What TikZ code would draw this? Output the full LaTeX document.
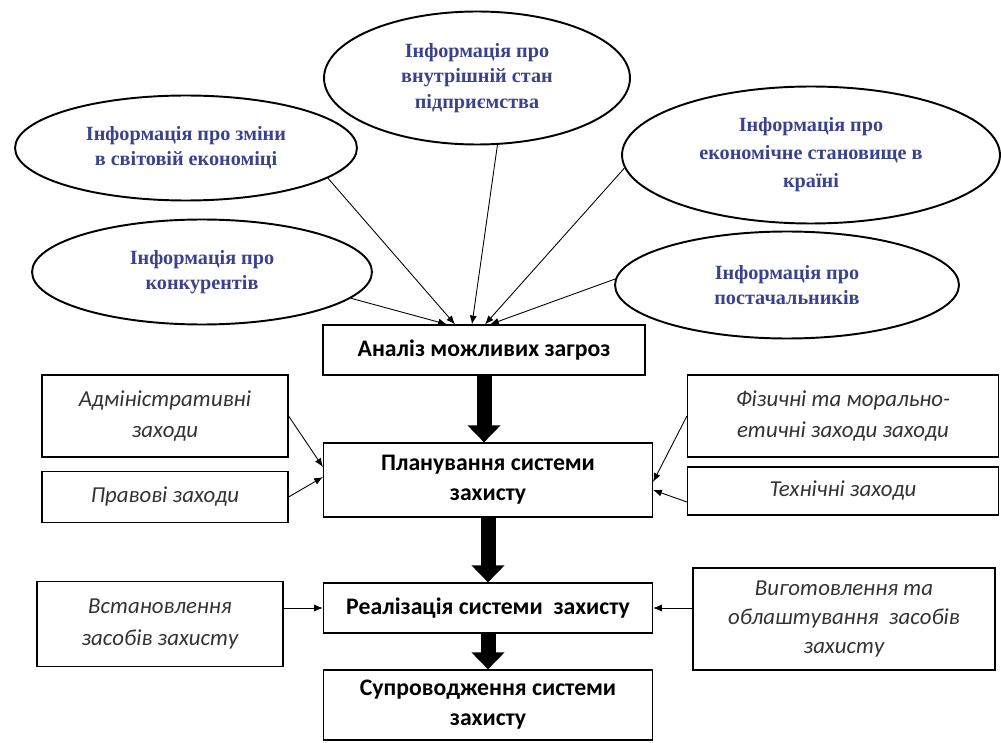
\documentclass[tikz,border=0pt]{standalone}
\usepackage{fontspec}
\setmainfont{Carlito}
\newfontfamily\ellfont{Liberation Serif}
\usetikzlibrary{calc,shapes.geometric,arrows.meta}
\definecolor{infoblue}{RGB}{58,66,140}

\begin{document}
\begin{tikzpicture}[
  x=0.02cm, y=-0.02cm,
  info/.style={ellipse, draw, line width=1.1pt, align=center, inner sep=0pt,
    font=\ellfont\bfseries\fontsize{11.5}{14.5}\selectfont, text=infoblue},
  stage/.style={draw, line width=0.7pt, align=center, inner sep=2pt,
    font=\bfseries\fontsize{13.5}{17}\selectfont},
  means/.style={draw, line width=0.7pt, align=center, inner sep=2pt,
    font=\itshape\fontsize{13}{18}\selectfont, text=black!80},
  feed/.style={-{Latex[length=5pt,width=4pt]}, line width=0.5pt},
  flow/.style={-{Triangle[length=0.34cm,width=0.64cm]}, line width=0.3cm}
]
\useasboundingbox (0,0) rectangle (1001,743);

\node[info, minimum width=6.84cm, minimum height=2.1cm] (world) at (186,148) {Інформація про зміни\\в світовій економіці};
\node[info, minimum width=6.12cm, minimum height=2.66cm] (inner) at (477,78) {Інформація про\\внутрішній стан\\підприємства};
\node[info, minimum width=7.56cm, minimum height=2.74cm, font=\ellfont\bfseries\fontsize{11.5}{16}\selectfont] (country) at (811,155) {Інформація про\\економічне становище в\\країні};
\node[info, minimum width=6.8cm, minimum height=2.1cm] (rivals) at (202,272) {Інформація про\\конкурентів};
\node[info, minimum width=6.88cm, minimum height=2.14cm] (supply) at (787,285) {Інформація про\\постачальників};

\node[stage, minimum width=6.44cm, minimum height=1cm] (b1) at (484,350) {Аналіз можливих загроз};
\node[stage, minimum width=6.58cm, minimum height=1.48cm] (b2) at (488,480) {Планування системи\\захисту};
\node[stage, minimum width=6.58cm, minimum height=1cm] (b3) at (488,608) {Реалізація системи \ захисту};
\node[stage, minimum width=6.58cm, minimum height=1.4cm] (b4) at (488,705) {Супроводження системи\\захисту};

\node[means, minimum width=4.92cm, minimum height=1.64cm] (l1) at (165,416) {Адміністративні\\заходи};
\node[means, minimum width=4.92cm, minimum height=1.02cm] (l2) at (165,497) {Правові заходи};
\node[means, minimum width=6.22cm, minimum height=1.64cm] (r1) at (843,416) {Фізичні та морально-\\етичні заходи заходи};
\node[means, minimum width=6.22cm, minimum height=0.96cm] (r2) at (843,491) {Технічні заходи};
\node[means, minimum width=4.92cm, minimum height=1.7cm] (l3) at (160,624) {Встановлення\\засобів захисту};
\node[means, minimum width=6.04cm, minimum height=2.04cm, font=\itshape\fontsize{13}{16.5}\selectfont] (r3) at (844,619) {Виготовлення та\\облаштування \ засобів\\захисту};

\draw[feed] (rivals.-10) -- ($(b1.north)+(-37,0)$);
\draw[feed] (world.-12) -- ($(b1.north)+(-29,0)$);
\draw[feed] (inner.-73) -- ($(b1.north)+(-12,0)$);
\draw[feed] (country.184) -- ($(b1.north)+(1,0)$);
\draw[feed] (supply.178) -- ($(b1.north)+(6,0)$);

\draw[feed] (l1.east) -- ($(b2.west)+(0,-13)$);
\draw[feed] (l2.east) -- ($(b2.west)+(0,-3)$);
\draw[feed] (r1.west) -- ($(b2.east)+(0,2)$);
\draw[feed] ($(r2.west)+(0,11)$) -- ($(b2.east)+(0,10)$);
\draw[feed] (l3.east |- b3.west) -- (b3.west);
\draw[feed] (r3.west |- b3.east) -- (b3.east);

\draw[flow] (b1.south) -- (b1.south |- b2.north);
\draw[flow] (b2) -- (b3);
\draw[flow] (b3) -- (b4);
\end{tikzpicture}
\end{document}
